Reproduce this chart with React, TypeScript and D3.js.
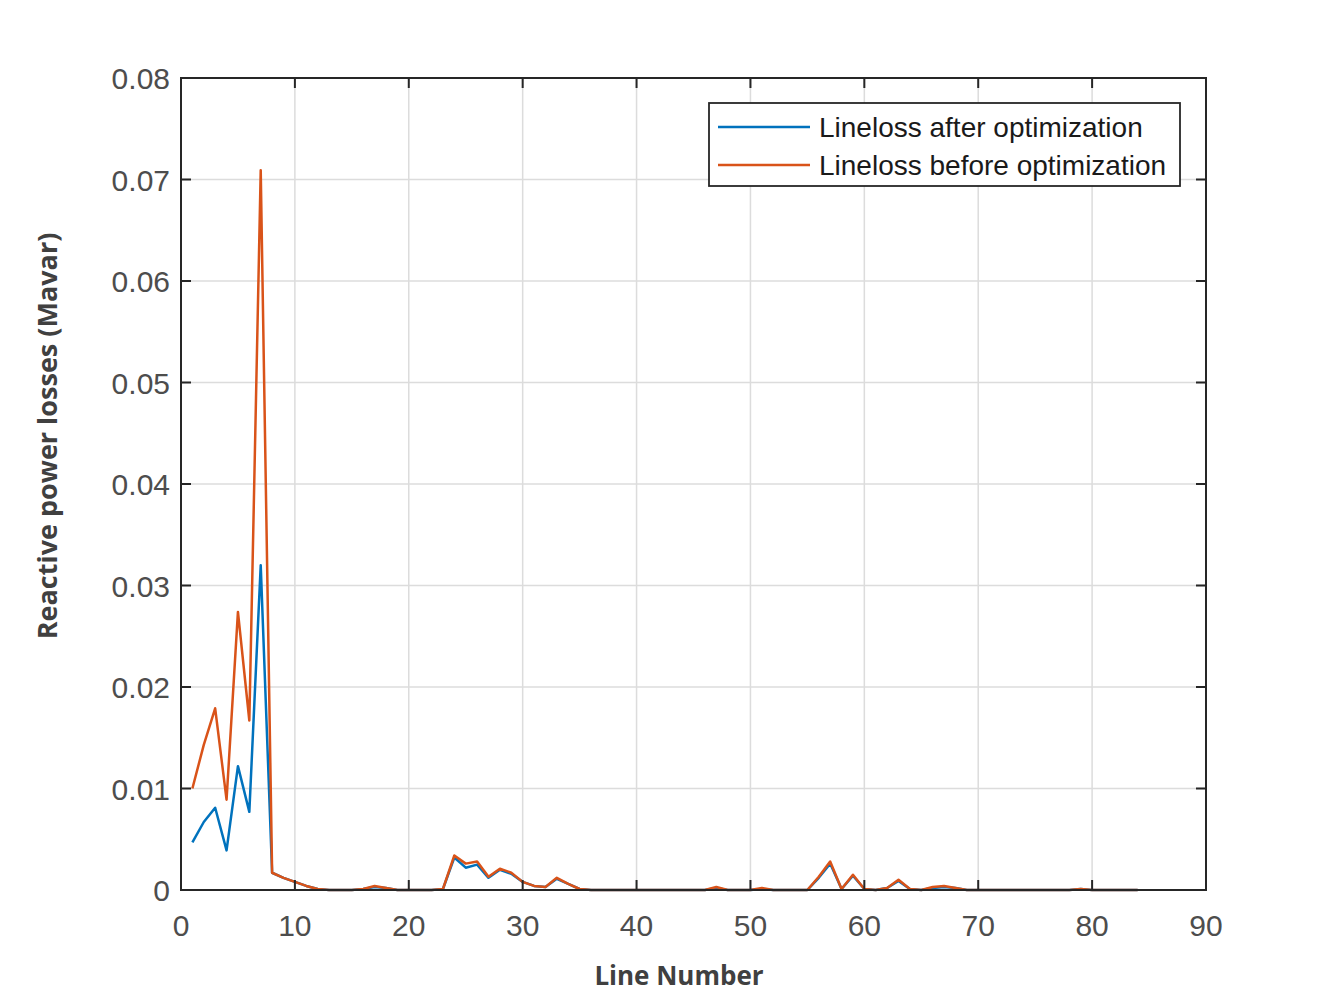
import React from "react";
import * as d3 from "d3";

const lineNumbers: number[] = Array.from({ length: 84 }, (_, i) => i + 1);

const lossBefore: number[] = [
  0.0100, 0.0143, 0.0179, 0.0089, 0.0274, 0.0167, 0.0709, 0.0017, 0.0012, 0.0008,
  0.0004, 0.0001, 0.0000, 0.0000, 0.0000, 0.0001, 0.0004, 0.0002, 0.0000, 0.0000,
  0.0000, 0.0000, 0.0001, 0.0034, 0.0026, 0.0028, 0.0013, 0.0021, 0.0017, 0.0008,
  0.0004, 0.0003, 0.0012, 0.0006, 0.0001, 0.0000, 0.0000, 0.0000, 0.0000, 0.0000,
  0.0000, 0.0000, 0.0000, 0.0000, 0.0000, 0.0000, 0.0003, 0.0000, 0.0000, 0.0000,
  0.0002, 0.0000, 0.0000, 0.0000, 0.0000, 0.0013, 0.0028, 0.0001, 0.0015, 0.0001,
  0.0000, 0.0002, 0.0010, 0.0001, 0.0000, 0.0003, 0.0004, 0.0002, 0.0000, 0.0000,
  0.0000, 0.0000, 0.0000, 0.0000, 0.0000, 0.0000, 0.0000, 0.0000, 0.0001, 0.0000,
  0.0000, 0.0000, 0.0000, 0.0000,
];

const lossAfter: number[] = [
  0.0047, 0.0067, 0.0081, 0.0039, 0.0122, 0.0077, 0.0320, 0.0017, 0.0012, 0.0008,
  0.0004, 0.0001, 0.0000, 0.0000, 0.0000, 0.0001, 0.0003, 0.0002, 0.0000, 0.0000,
  0.0000, 0.0000, 0.0001, 0.0032, 0.0022, 0.0025, 0.0012, 0.0020, 0.0016, 0.0008,
  0.0004, 0.0003, 0.0011, 0.0006, 0.0001, 0.0000, 0.0000, 0.0000, 0.0000, 0.0000,
  0.0000, 0.0000, 0.0000, 0.0000, 0.0000, 0.0000, 0.0002, 0.0000, 0.0000, 0.0000,
  0.0001, 0.0000, 0.0000, 0.0000, 0.0000, 0.0012, 0.0026, 0.0001, 0.0014, 0.0001,
  0.0000, 0.0002, 0.0009, 0.0001, 0.0000, 0.0002, 0.0003, 0.0002, 0.0000, 0.0000,
  0.0000, 0.0000, 0.0000, 0.0000, 0.0000, 0.0000, 0.0000, 0.0000, 0.0001, 0.0000,
  0.0000, 0.0000, 0.0000, 0.0000,
];

const xTicks: number[] = [0, 10, 20, 30, 40, 50, 60, 70, 80, 90];
const yTicks: number[] = [0, 0.01, 0.02, 0.03, 0.04, 0.05, 0.06, 0.07, 0.08];
const seriesNames: string[] = ["Lineloss after optimization", "Lineloss before optimization"];
const seriesColors: string[] = ["#0072BD", "#D95319"];

const W = 1338;
const H = 993;
const L = 181, R = 1206, T = 78, B = 890;

export default function App() {
  const x = d3.scaleLinear().domain([0, 90]).range([L, R]);
  const y = d3.scaleLinear().domain([0, 0.08]).range([B, T]);
  const line = d3
    .line<number>()
    .x((_, i) => x(lineNumbers[i]))
    .y((d) => y(d));
  const series = [lossAfter, lossBefore];
  const tickFont = "'Liberation Sans', Arial, Helvetica, sans-serif";
  const titleFont = "'Open Sans', 'DejaVu Sans', sans-serif";
  const tl = 10;
  return (
    <svg
      width={W}
      height={H}
      style={{ position: "absolute", left: 0, top: 0, background: "#fff" }}
    >
      <rect x={0} y={0} width={W} height={H} fill="#fff" />
      {/* grid */}
      {xTicks.slice(1, -1).map((t) => (
        <line key={"gx" + t} x1={x(t)} x2={x(t)} y1={T} y2={B} stroke="#dcdcdc" strokeWidth={1.5} />
      ))}
      {yTicks.slice(1, -1).map((t) => (
        <line key={"gy" + t} x1={L} x2={R} y1={y(t)} y2={y(t)} stroke="#dcdcdc" strokeWidth={1.5} />
      ))}
      {/* data */}
      {series.map((s, i) => (
        <path key={i} d={line(s) || ""} fill="none" stroke={seriesColors[i]} strokeWidth={2.5} strokeLinejoin="round" />
      ))}
      {/* ticks */}
      {xTicks.map((t) => (
        <g key={"tx" + t}>
          <line x1={x(t)} x2={x(t)} y1={B} y2={B - tl} stroke="#262626" strokeWidth={2} />
          <line x1={x(t)} x2={x(t)} y1={T} y2={T + tl} stroke="#262626" strokeWidth={2} />
          <text x={x(t)} y={B + 46} textAnchor="middle" fontFamily={tickFont} fontSize={30} fill="#4d4d4d">
            {t}
          </text>
        </g>
      ))}
      {yTicks.map((t) => (
        <g key={"ty" + t}>
          <line x1={L} x2={L + tl} y1={y(t)} y2={y(t)} stroke="#262626" strokeWidth={2} />
          <line x1={R} x2={R - tl} y1={y(t)} y2={y(t)} stroke="#262626" strokeWidth={2} />
          <text x={L - 11} y={y(t) + 11} textAnchor="end" fontFamily={tickFont} fontSize={30} fill="#4d4d4d">
            {t === 0 ? "0" : t.toFixed(2)}
          </text>
        </g>
      ))}
      {/* frame */}
      <rect x={L} y={T} width={R - L} height={B - T} fill="none" stroke="#262626" strokeWidth={2} />
      {/* legend */}
      <rect x={709} y={103} width={471} height={83} fill="#fff" stroke="#262626" strokeWidth={1.8} />
      {seriesNames.map((n, i) => (
        <g key={n}>
          <line x1={718} x2={810} y1={127 + i * 38} y2={127 + i * 38} stroke={seriesColors[i]} strokeWidth={2.5} />
          <text x={819} y={137 + i * 38} fontFamily={tickFont} fontSize={28} fill="#1a1a1a">
            {n}
          </text>
        </g>
      ))}
      {/* axis titles */}
      <text x={679} y={985} textAnchor="middle" fontFamily={titleFont} fontWeight="bold" fontSize={26} fill="#404040">
        Line Number
      </text>
      <text
        transform={`translate(57, 436) rotate(-90)`}
        textAnchor="middle"
        fontFamily={titleFont}
        fontWeight="bold"
        fontSize={27}
        fill="#404040"
      >
        Reactive power losses (Mavar)
      </text>
    </svg>
  );
}
